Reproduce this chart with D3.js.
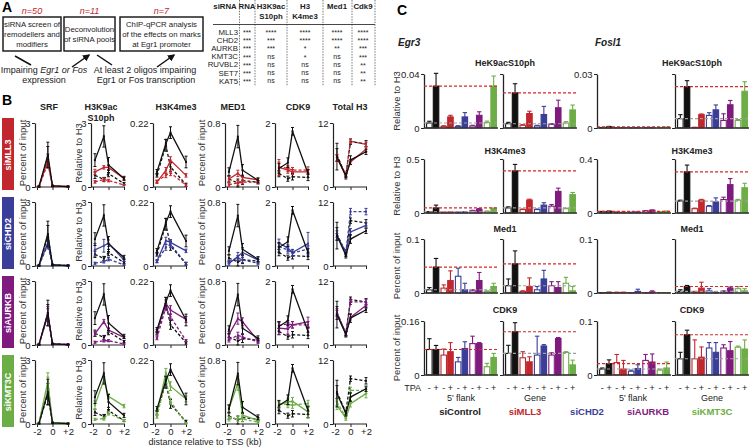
<!DOCTYPE html>
<html><head><meta charset="utf-8">
<script src="https://cdn.jsdelivr.net/npm/d3@7"></script>
<style>body{margin:0;background:#fff} svg{display:block}</style>
</head><body><svg id="chart" width="750" height="448"></svg>
<script>
// ================= DATA =================
// Panel A
const screenSteps = ["siRNA screen of|remodellers and|modifiers", "Deconvolution|of siRNA pools", "ChIP-qPCR analysis|of the effects on marks|at Egr1 promoter"];
const screenCounts = ["n=50", "n=11", "n=7"];
const tableHeaders = [["siRNA"], ["RNA"], ["H3K9ac", "S10ph"], ["H3", "K4me3"], ["Med1"], ["Cdk9"]];
const tableGenes = ["MLL3", "CHD2", "AURKB", "KMT3C", "RUVBL2", "SET7", "KAT5"];
const sigRNA  = ["***", "***", "***", "***", "***", "***", "***"];
const sigK9   = ["****", "***", "***", "ns", "ns", "ns", "ns"];
const sigK4   = ["****", "****", "*", "*", "ns", "ns", "ns"];
const sigMed1 = ["****", "****", "**", "ns", "ns", "ns", "ns"];
const sigCdk9 = ["****", "****", "***", "***", "**", "**", "**"];

// Panel B
const bColumns = ["SRF", "H3K9ac|S10ph", "H3K4me3", "MED1", "CDK9", "Total H3"];
const bYMax = [3, 3, 0.22, 0.8, 2, 12];
const bYTickLabels = ["3", "3", "0.22", "0.8", "2", "12"];
const bYTitles = ["Percent of input", "Relative to H3", "", "Percent of input", "", ""];
const bX = [-1.75, -0.6, 0, 2];
const bXTicks = [-2, 0, 2];
const bXTickLabels = ["-2", "0", "+2"];
const bRows = ["siMLL3", "siCHD2", "siAURKB", "siKMT3C"];
// each array: one entry per column (SRF, H3K9acS10ph, H3K4me3, MED1, CDK9, Total H3), 4 positions each
const ctrlPlus  = [[0.02,1.5,0.05,0.02],[1.26,2.37,1.03,0.4],[0.052,0.149,0.187,0.086],[0.19,0.63,0.21,0.084],[0.58,0.76,1.74,0.42],[5.7,2.0,5.05,6.6]];
const ctrlPlusErr = [[0.02,0.6,0.03,0.02],[0.3,0.5,0.35,0.1],[0.008,0.015,0.02,0.02],[0.05,0.14,0.07,0.03],[0.15,0.15,0.12,0.12],[2.5,0.5,0.8,0.5]];
const ctrlMinus = [[0.02,1.4,0.05,0.02],[0.55,0.35,0.63,0.16],[0.04,0.143,0.069,0.008],[0.1,0.05,0.08,0.06],[0.42,0.26,0.32,0.3],[6.0,2.2,8.5,8.1]];
const ctrlMinusErr = [[0.02,0.5,0.03,0.02],[0.15,0.1,0.15,0.05],[0.006,0.02,0.015,0.005],[0.04,0.05,0.05,0.02],[0.1,0.08,0.1,0.1],[1.2,0.4,0.5,0.6]];
const mll3Plus  = [[0.02,1.25,0.05,0.02],[0.71,0.92,0.92,0.4],[0.017,0.057,0.092,0.04],[0.1,0.17,0.12,0.09],[0.61,0.53,0.47,0.47],[5.4,2.2,4.7,7.1]];
const mll3PlusErr = [[0.02,0.3,0.03,0.02],[0.12,0.08,0.1,0.05],[0.005,0.01,0.012,0.006],[0.03,0.04,0.03,0.02],[0.25,0.1,0.08,0.08],[0.6,0.3,0.5,0.5]];
const mll3Minus = [[0.02,1.1,0.04,0.02],[0.24,0.35,0.3,0.1],[0.02,0.04,0.049,0.006],[0.03,0.05,0.06,0.06],[0.63,0.58,0.53,0.53],[5.5,2.3,8.6,8.0]];
const mll3MinusErr = [[0.02,0.2,0.03,0.02],[0.06,0.08,0.06,0.03],[0.004,0.008,0.01,0.004],[0.02,0.03,0.02,0.02],[0.15,0.1,0.08,0.1],[0.6,0.3,0.4,0.4]];
const chd2Plus  = [[0.02,1.1,0.05,0.02],[0.76,0.95,1.07,0.28],[0.017,0.087,0.081,0.052],[0.03,0.12,0.17,0.075],[0.72,0.56,0.42,0.7],[5.5,2.7,6.4,7.6]];
const chd2PlusErr = [[0.02,0.25,0.03,0.02],[0.3,0.3,0.15,0.08],[0.005,0.012,0.01,0.006],[0.02,0.05,0.06,0.04],[0.12,0.1,0.1,0.35],[0.6,0.4,0.6,0.5]];
const chd2Minus = [[0.02,1.0,0.04,0.02],[0.13,0.2,0.32,0.05],[0.015,0.064,0.075,0.008],[0.055,0.1,0.075,0.035],[0.61,0.5,0.4,0.53],[6.0,2.5,10.2,10.2]];
const chd2MinusErr = [[0.02,0.2,0.03,0.02],[0.05,0.06,0.08,0.03],[0.004,0.01,0.012,0.004],[0.02,0.03,0.03,0.02],[0.1,0.1,0.1,0.1],[0.6,0.4,0.6,0.6]];
const aurkbPlus  = [[0.02,1.4,0.05,0.02],[0.52,1.1,0.7,0.36],[0.046,0.143,0.12,0.088],[0.13,0.33,0.29,0.055],[0.53,0.5,0.63,0.72],[5.9,2.1,5.2,7.4]];
const aurkbPlusErr = [[0.02,0.3,0.03,0.02],[0.1,0.1,0.1,0.05],[0.008,0.012,0.015,0.01],[0.04,0.07,0.05,0.02],[0.2,0.2,0.1,0.15],[0.6,0.4,0.5,0.5]];
const aurkbMinus = [[0.02,1.5,0.04,0.02],[0.13,0.2,0.2,0.05],[0.023,0.13,0.097,0.015],[0.067,0.12,0.1,0.04],[0.61,0.66,0.63,0.63],[6.2,2.1,8.1,8.1]];
const aurkbMinusErr = [[0.02,0.3,0.03,0.02],[0.05,0.06,0.05,0.03],[0.005,0.012,0.01,0.004],[0.03,0.04,0.03,0.02],[0.1,0.1,0.1,0.1],[0.6,0.4,0.5,0.5]];
const kmt3cPlus  = [[0.02,2.0,0.08,0.03],[0.88,2.07,1.3,0.84],[0.037,0.176,0.13,0.086],[0.19,0.51,0.11,0.046],[0.59,0.69,0.71,0.38],[3.5,1.1,3.8,5.7]];
const kmt3cPlusErr = [[0.02,0.4,0.04,0.02],[0.2,0.15,0.12,0.08],[0.008,0.015,0.015,0.01],[0.04,0.09,0.04,0.02],[0.1,0.12,0.12,0.2],[0.8,0.4,0.6,0.8]];
const kmt3cMinus = [[0.02,1.9,0.06,0.02],[0.22,0.25,0.5,0.17],[0.025,0.153,0.078,0.002],[0.067,0.067,0.06,0.025],[0.64,0.61,0.59,0.64],[4.1,1.3,6.3,6.3]];
const kmt3cMinusErr = [[0.02,0.3,0.03,0.02],[0.05,0.07,0.08,0.04],[0.005,0.012,0.01,0.002],[0.03,0.03,0.03,0.015],[0.1,0.1,0.1,0.1],[0.6,0.3,0.6,0.6]];

// Panel C (bar order: siControl -/+, siMLL3 -/+, siCHD2 -/+, siAURKB -/+, siKMT3C -/+)
const cSirnas = ["siControl", "siMLL3", "siCHD2", "siAURKB", "siKMT3C"];
const cTPA = ["-", "+"];
const cGenes = ["Egr3", "Fosl1"];
const cRegions = ["5' flank", "Gene"];
const cRowTitles = ["HeK9acS10ph", "H3K4me3", "Med1", "CDK9"];
const cYTitles = ["Relative to H3", "Relative to H3", "Percent of input", "Percent of input"];
const cEgr3Max = [0.04, 0.5, 0.1, 0.16];
const cEgr3TickLabels = ["0.04", "0.5", "0.1", "0.16"];
const cFosl1Max = [0.03, 0.4, 0.1, 0.1];
const cFosl1TickLabels = ["0.03", "0.4", "0.1", "0.1"];

const egr3FlankK9 = [0.0037,0.031,0.0012,0.0082,0.0012,0.0082,0.0015,0.0094,0.004,0.031];
const egr3FlankK9Err = [0.0013,0.0095,0.0005,0.0012,0.0005,0.0032,0.0005,0.0026,0.0011,0.0075];
const egr3GeneK9 = [0.0032,0.026,0.002,0.0107,0.0015,0.01,0.0027,0.015,0.0037,0.0134];
const egr3GeneK9Err = [0.001,0.0068,0.0005,0.0017,0.0005,0.006,0.0005,0.0056,0.001,0.0036];
const fosl1FlankK9 = [0.0002,0.0006,0.0001,0.0002,0.0001,0.0002,0.0002,0.0002,0.0001,0.0003];
const fosl1FlankK9Err = [0.0001,0.0003,0.0001,0.0001,0.0001,0.0001,0.0001,0.0001,0.0001,0.0002];
const fosl1GeneK9 = [0.0052,0.023,0.0003,0.0074,0.007,0.0101,0.0042,0.0129,0.0042,0.0204];
const fosl1GeneK9Err = [0.0022,0.0033,0.0001,0.0004,0.0015,0.0027,0.0037,0.0024,0.0005,0.0053];

const egr3FlankK4 = [0.01,0.047,0.006,0.008,0.006,0.008,0.02,0.035,0.015,0.041];
const egr3FlankK4Err = [0.003,0.026,0.002,0.003,0.002,0.003,0.005,0.006,0.003,0.005];
const egr3GeneK4 = [0.047,0.39,0.032,0.12,0.032,0.073,0.063,0.2,0.04,0.17];
const egr3GeneK4Err = [0.01,0.06,0.005,0.008,0.005,0.022,0.015,0.03,0.005,0.02];
const fosl1FlankK4 = [0.01,0.012,0.006,0.005,0.004,0.007,0.015,0.02,0.008,0.012];
const fosl1FlankK4Err = [0.002,0.002,0.002,0.002,0.002,0.002,0.002,0.003,0.002,0.002];
const fosl1GeneK4 = [0.088,0.305,0.032,0.095,0.05,0.082,0.1,0.21,0.095,0.187];
const fosl1GeneK4Err = [0.007,0.05,0.004,0.006,0.005,0.03,0.017,0.045,0.006,0.033];

const egr3FlankMed1 = [0.006,0.048,0.009,0.023,0.031,0.006,0.004,0.023,0.003,0.012];
const egr3FlankMed1Err = [0.004,0.016,0.006,0.018,0.015,0.012,0.002,0.015,0.001,0.006];
const egr3GeneMed1 = [0.0135,0.054,0.003,0.012,0.006,0.026,0.0135,0.01,0.018,0.004];
const egr3GeneMed1Err = [0.0125,0.024,0.001,0.016,0.006,0.016,0.0075,0.011,0.011,0.008];
const fosl1FlankMed1 = [0.0005,0.001,0.001,0.001,0.0005,0.003,0.0005,0.002,0.0005,0.0005];
const fosl1FlankMed1Err = [0.0003,0.0005,0.0005,0.0005,0.0003,0.004,0.0003,0.002,0.0003,0.0003];
const fosl1GeneMed1 = [0.003,0.012,0.002,0.009,0.004,0.001,0.003,0.009,0.008,0.004];
const fosl1GeneMed1Err = [0.003,0.002,0.001,0.011,0.004,0.001,0.001,0.002,0.004,0.004];

const egr3FlankCdk9 = [0.0756,0.0756,0.059,0.069,0.039,0.0785,0.093,0.093,0.0245,0.052];
const egr3FlankCdk9Err = [0.032,0.012,0.018,0.027,0.013,0.02,0.022,0.003,0.01,0.012];
const egr3GeneCdk9 = [0.064,0.128,0.051,0.039,0.059,0.086,0.059,0.108,0.067,0.03];
const egr3GeneCdk9Err = [0.024,0.027,0.018,0.015,0.056,0.004,0.007,0.003,0.002,0.014];
const fosl1FlankCdk9 = [0.011,0.021,0.023,0.011,0.007,0.012,0.027,0.024,0.009,0.013];
const fosl1FlankCdk9Err = [0.002,0.007,0.015,0.016,0.002,0.007,0.011,0.015,0.002,0.011];
const fosl1GeneCdk9 = [0.03,0.0745,0.03,0.033,0.05,0.042,0.05,0.045,0.0515,0.048];
const fosl1GeneCdk9Err = [0.012,0.0085,0.035,0.019,0.01,0.018,0.006,0.017,0.002,0.017];

// ================= STYLE =================
const FONT = '"Liberation Sans", Arial, Helvetica, sans-serif';
const BLACK = "#111111", RED = "#c1272d", BLUE = "#3a3e98", PURPLE = "#7f1a7f", GREEN = "#6cae45";
const sirnaColors = [BLACK, RED, BLUE, PURPLE, GREEN];
const rowColors = [RED, BLUE, PURPLE, GREEN];

const svg = d3.select("#chart").attr("font-family", FONT);

// ================= PANEL A =================
svg.append("text").attr("x", 2).attr("y", 12).attr("font-size", 14).attr("font-weight", "bold").text("A");
const boxes = [{x: 3, w: 58}, {x: 64, w: 51}, {x: 120, w: 83}];
boxes.forEach((b, i) => {
  svg.append("rect").attr("x", b.x).attr("y", 17).attr("width", b.w).attr("height", 34)
    .attr("fill", "none").attr("stroke", BLACK).attr("stroke-width", 1.4);
  const lines = screenSteps[i].split("|");
  lines.forEach((t, j) => svg.append("text").attr("x", b.x + b.w / 2)
    .attr("y", 34 + (j - (lines.length - 1) / 2) * 10 + 3)
    .attr("text-anchor", "middle").attr("font-size", 7.8).attr("fill", "#222").text(t));
  svg.append("text").attr("x", b.x + b.w / 2).attr("y", 14).attr("text-anchor", "middle")
    .attr("font-size", 9).attr("font-style", "italic").attr("fill", RED).text(screenCounts[i]);
});
svg.append("defs").append("marker").attr("id", "ah").attr("viewBox", "0 0 10 10").attr("refX", 8).attr("refY", 5)
  .attr("markerWidth", 5).attr("markerHeight", 5).attr("orient", "auto")
  .append("path").attr("d", "M0,0L10,5L0,10z").attr("fill", BLACK);
[[15, 56, 31, 65, false], [72, 67, 89, 55, true], [97, 55, 112, 65, false], [157, 67, 174, 55, true]].forEach(a => {
  svg.append("line").attr("x1", a[0]).attr("y1", a[1]).attr("x2", a[2]).attr("y2", a[3])
    .attr("stroke", BLACK).attr("stroke-width", 1.5).attr("marker-end", a[4] ? "url(#ah)" : null);
});
const tA1 = svg.append("text").attr("x", 44).attr("y", 73).attr("text-anchor", "middle").attr("font-size", 9).attr("fill", "#222");
tA1.append("tspan").text("Impairing ");
tA1.append("tspan").attr("font-style", "italic").text("Egr1 or Fos");
svg.append("text").attr("x", 44).attr("y", 83).attr("text-anchor", "middle").attr("font-size", 9).attr("fill", "#222").text("expression");
svg.append("text").attr("x", 145).attr("y", 73).attr("text-anchor", "middle").attr("font-size", 9).attr("fill", "#222").text("At least 2 oligos impairing");
svg.append("text").attr("x", 146).attr("y", 83).attr("text-anchor", "middle").attr("font-size", 9).attr("fill", "#222").text("Egr1 or Fos transcription");

// table
const tableColCenters = [225, 247, 271, 305, 337, 363];
const tableDividers = [239.5, 255, 287, 323, 352, 375];
tableHeaders.forEach((h, i) => h.forEach((t, j) =>
  svg.append("text").attr("x", tableColCenters[i]).attr("y", 9 + j * 10).attr("text-anchor", "middle")
    .attr("font-size", 7.8).attr("font-weight", "bold").attr("fill", "#222").text(t)));
tableDividers.forEach(x => svg.append("line").attr("x1", x).attr("x2", x).attr("y1", 0).attr("y2", 86)
  .attr("stroke", "#555").attr("stroke-width", 0.8).attr("stroke-dasharray", "1.5,1.2"));
svg.append("line").attr("x1", 213).attr("x2", 375).attr("y1", 24.5).attr("y2", 24.5).attr("stroke", "#333").attr("stroke-width", 0.9);
const sigCols = [sigRNA, sigK9, sigK4, sigMed1, sigCdk9];
tableGenes.forEach((g, r) => {
  const y = 34.5 + r * 8.2;
  svg.append("text").attr("x", 238).attr("y", y).attr("text-anchor", "end").attr("font-size", 7.8).attr("fill", "#222").text(g);
  sigCols.forEach((col, c) => {
    const t = col[r];
    svg.append("text").attr("x", tableColCenters[c + 1]).attr("y", t === "ns" ? y - 0.5 : y + 0.5)
      .attr("text-anchor", "middle").attr("font-size", 7).attr("fill", "#222").text(t);
  });
});

// ================= PANEL B =================
svg.append("text").attr("x", 2).attr("y", 105).attr("font-size", 14).attr("font-weight", "bold").text("B");
const bColX = [35, 91, 153, 225, 275, 333];
const bTitleX = [49, 101, 176, 233, 298, 350];
const bYTitleX = [23, 79, 0, 202, 0, 0];
const bRowTop = [123, 202, 281, 360];
const bH = 64;
const rowPlus = [mll3Plus, chd2Plus, aurkbPlus, kmt3cPlus];
const rowPlusErr = [mll3PlusErr, chd2PlusErr, aurkbPlusErr, kmt3cPlusErr];
const rowMinus = [mll3Minus, chd2Minus, aurkbMinus, kmt3cMinus];
const rowMinusErr = [mll3MinusErr, chd2MinusErr, aurkbMinusErr, kmt3cMinusErr];

bColumns.forEach((t, c) => t.split("|").forEach((s, j) =>
  svg.append("text").attr("x", bTitleX[c]).attr("y", 110 + j * 11).attr("text-anchor", "middle")
    .attr("font-size", 9).attr("font-weight", "bold").attr("fill", "#222").text(s)));

function drawSeries(g, xs, ys, vals, errs, color, dashed) {
  const line = d3.line().x((d, i) => xs(bX[i])).y(d => ys(d));
  g.append("path").attr("d", line(vals)).attr("fill", "none").attr("stroke", color)
    .attr("stroke-width", 1.3).attr("stroke-dasharray", dashed ? "3,2" : null);
  vals.forEach((v, i) => {
    const x = xs(bX[i]), e = errs[i];
    const y1 = ys(Math.max(0, v - e)), y2 = ys(v + e);
    g.append("line").attr("x1", x).attr("x2", x).attr("y1", y1).attr("y2", y2).attr("stroke", color).attr("stroke-width", 1);
    [y1, y2].forEach(yy => g.append("line").attr("x1", x - 1.5).attr("x2", x + 1.5).attr("y1", yy).attr("y2", yy).attr("stroke", color).attr("stroke-width", 1));
    g.append("rect").attr("x", x - 1).attr("y", ys(v) - 1).attr("width", 2).attr("height", 2).attr("fill", color);
  });
}

bRows.forEach((name, r) => {
  const top = bRowTop[r], bot = top + bH;
  svg.append("rect").attr("x", 2).attr("y", top - 5).attr("width", 12).attr("height", bH + 8).attr("fill", rowColors[r]);
  svg.append("text").attr("transform", `translate(8,${top + bH / 2}) rotate(-90)`).attr("dy", "0.35em")
    .attr("text-anchor", "middle").attr("font-size", 9).attr("font-weight", "bold").attr("fill", "#fff").text(name);
  bColumns.forEach((col, c) => {
    const x0 = bColX[c];
    const xs = d3.scaleLinear().domain([-2, 2]).range([x0 + 2, x0 + 33]);
    const ys = d3.scaleLinear().domain([0, bYMax[c]]).range([bot, top]);
    const g = svg.append("g");
    const yAx = g.append("g").attr("transform", `translate(${x0},0)`)
      .call(d3.axisLeft(ys).tickValues([0, bYMax[c]]).tickFormat((d, i) => d === 0 ? "0" : bYTickLabels[c]).tickSize(3).tickSizeOuter(0).tickPadding(1.5));
    const xAx = g.append("g").attr("transform", `translate(0,${bot})`)
      .call(d3.axisBottom(xs).tickValues(bXTicks).tickFormat((d, i) => r === 3 ? bXTickLabels[i] : "").tickSize(3).tickSizeOuter(0).tickPadding(1.5));
    xAx.select(".domain").remove();
    g.append("line").attr("x1", x0).attr("x2", x0 + 34).attr("y1", bot).attr("y2", bot).attr("stroke", "#222").attr("stroke-width", 1.2);
    [yAx, xAx].forEach(a => {
      a.attr("font-family", FONT);
      a.selectAll("text").attr("font-size", 9.5).attr("fill", "#222");
      a.selectAll(".tick line").attr("stroke", "#222");
      a.select(".domain").attr("stroke", "#222").attr("stroke-width", 1.2);
    });
    if (bYTitles[c]) {
      svg.append("text").attr("transform", `translate(${bYTitleX[c]},${top + bH / 2 - 2}) rotate(-90)`).attr("dy", "0.35em")
        .attr("text-anchor", "middle").attr("font-size", 9.5).attr("fill", "#333").text(bYTitles[c]);
    }
    drawSeries(g, xs, ys, ctrlMinus[c], ctrlMinusErr[c], BLACK, true);
    drawSeries(g, xs, ys, rowMinus[r][c], rowMinusErr[r][c], rowColors[r], true);
    drawSeries(g, xs, ys, rowPlus[r][c], rowPlusErr[r][c], rowColors[r], false);
    drawSeries(g, xs, ys, ctrlPlus[c], ctrlPlusErr[c], BLACK, false);
  });
});
svg.append("text").attr("x", 205).attr("y", 445).attr("text-anchor", "middle").attr("font-size", 9).attr("fill", "#222")
  .text("distance relative to TSS (kb)");

// ================= PANEL C =================
svg.append("text").attr("x", 397).attr("y", 15).attr("font-size", 14).attr("font-weight", "bold").text("C");
svg.append("text").attr("x", 398).attr("y", 46).attr("font-size", 10).attr("font-weight", "bold").attr("font-style", "italic").attr("fill", "#222").text(cGenes[0]);
svg.append("text").attr("x", 595).attr("y", 46).attr("font-size", 10).attr("font-weight", "bold").attr("font-style", "italic").attr("fill", "#222").text(cGenes[1]);

const cGroupX = [424, 503, 597, 675];
const cRowTop = [74, 159, 239, 321];
const cTitleY = [66, 154, 232, 313];
const cH = 54, cW = 73;
const cVals = [
  [egr3FlankK9, egr3GeneK9, fosl1FlankK9, fosl1GeneK9],
  [egr3FlankK4, egr3GeneK4, fosl1FlankK4, fosl1GeneK4],
  [egr3FlankMed1, egr3GeneMed1, fosl1FlankMed1, fosl1GeneMed1],
  [egr3FlankCdk9, egr3GeneCdk9, fosl1FlankCdk9, fosl1GeneCdk9]];
const cErrs = [
  [egr3FlankK9Err, egr3GeneK9Err, fosl1FlankK9Err, fosl1GeneK9Err],
  [egr3FlankK4Err, egr3GeneK4Err, fosl1FlankK4Err, fosl1GeneK4Err],
  [egr3FlankMed1Err, egr3GeneMed1Err, fosl1FlankMed1Err, fosl1GeneMed1Err],
  [egr3FlankCdk9Err, egr3GeneCdk9Err, fosl1FlankCdk9Err, fosl1GeneCdk9Err]];

cRowTitles.forEach((title, r) => {
  const top = cRowTop[r], bot = top + cH;
  svg.append("text").attr("x", 505).attr("y", cTitleY[r]).attr("text-anchor", "middle").attr("font-size", 9).attr("font-weight", "bold").attr("fill", "#222").text(title);
  svg.append("text").attr("x", 692).attr("y", cTitleY[r]).attr("text-anchor", "middle").attr("font-size", 9).attr("font-weight", "bold").attr("fill", "#222").text(title);
  svg.append("text").attr("transform", `translate(397,${top + cH / 2}) rotate(-90)`).attr("dy", "0.35em")
    .attr("text-anchor", "middle").attr("font-size", 9.5).attr("fill", "#333").text(cYTitles[r]);
  cGroupX.forEach((x0, gi) => {
    const max = gi < 2 ? cEgr3Max[r] : cFosl1Max[r];
    const lab = gi < 2 ? cEgr3TickLabels[r] : cFosl1TickLabels[r];
    const ys = d3.scaleLinear().domain([0, max]).range([bot, top]);
    const g = svg.append("g");
    const yAx = g.append("g").attr("transform", `translate(${x0},0)`)
      .call(d3.axisLeft(ys).tickValues([0, max]).tickFormat(d => gi % 2 === 1 ? "" : (d === 0 ? "0" : lab)).tickSize(3).tickSizeOuter(0).tickPadding(1.5));
    yAx.attr("font-family", FONT);
    yAx.selectAll("text").attr("font-size", 9.5).attr("fill", "#222");
    yAx.selectAll(".tick line").attr("stroke", "#222");
    yAx.select(".domain").attr("stroke", "#222").attr("stroke-width", 1.3);
    const pairScale = d3.scaleBand().domain(d3.range(5)).range([x0 + 2, x0 + cW]).paddingInner(0.07);
    const tpaScale = d3.scaleBand().domain([0, 1]).range([0, pairScale.bandwidth()]);
    const vals = cVals[r][gi], errs = cErrs[r][gi];
    vals.forEach((v, i) => {
      const s = Math.floor(i / 2), t = i % 2;
      const col = sirnaColors[s];
      const bx = pairScale(s) + tpaScale(t) + 0.6, bw = tpaScale.bandwidth() - 1.2;
      const cx = bx + bw / 2;
      const ye = ys(v + errs[i]);
      g.append("line").attr("x1", cx).attr("x2", cx).attr("y1", ys(v)).attr("y2", ye).attr("stroke", col).attr("stroke-width", 1.1);
      g.append("line").attr("x1", cx - 2.2).attr("x2", cx + 2.2).attr("y1", ye).attr("y2", ye).attr("stroke", col).attr("stroke-width", 1.1);
      g.append("rect").attr("x", bx).attr("y", ys(v)).attr("width", bw).attr("height", Math.max(0, bot - ys(v)))
        .attr("fill", t === 1 ? col : "#fff").attr("stroke", col).attr("stroke-width", 1.1);
      if (r === 3) {
        svg.append("text").attr("x", cx).attr("y", 391).attr("text-anchor", "middle").attr("font-size", 9).attr("fill", "#222").text(cTPA[t]);
      }
    });
    // reference lines at siControl -TPA (grey) and +TPA (red)
    g.append("line").attr("x1", x0).attr("x2", x0 + cW + 1).attr("y1", ys(vals[0])).attr("y2", ys(vals[0]))
      .attr("stroke", "#a0a0a0").attr("stroke-width", 1.1).attr("stroke-dasharray", "3,2");
    g.append("line").attr("x1", x0).attr("x2", x0 + cW + 1).attr("y1", ys(vals[1])).attr("y2", ys(vals[1]))
      .attr("stroke", "#d42a2a").attr("stroke-width", 1.1).attr("stroke-dasharray", "3,2");
    g.append("line").attr("x1", x0).attr("x2", x0 + cW + 1).attr("y1", bot).attr("y2", bot).attr("stroke", "#333").attr("stroke-width", 1.5);
  });
});
svg.append("text").attr("x", 421).attr("y", 391).attr("text-anchor", "end").attr("font-size", 9).attr("fill", "#222").text("TPA");
[[461, 0], [535, 1], [633, 0], [712, 1]].forEach(p =>
  svg.append("text").attr("x", p[0]).attr("y", 401).attr("text-anchor", "middle").attr("font-size", 9).attr("fill", "#222").text(cRegions[p[1]]));
const cLegendX = [460, 525, 587, 648, 712];
cSirnas.forEach((s, i) => svg.append("text").attr("x", cLegendX[i]).attr("y", 415).attr("text-anchor", "middle")
  .attr("font-size", 9.5).attr("font-weight", "bold").attr("fill", i === 0 ? "#222" : sirnaColors[i]).text(s));
</script></body></html>
